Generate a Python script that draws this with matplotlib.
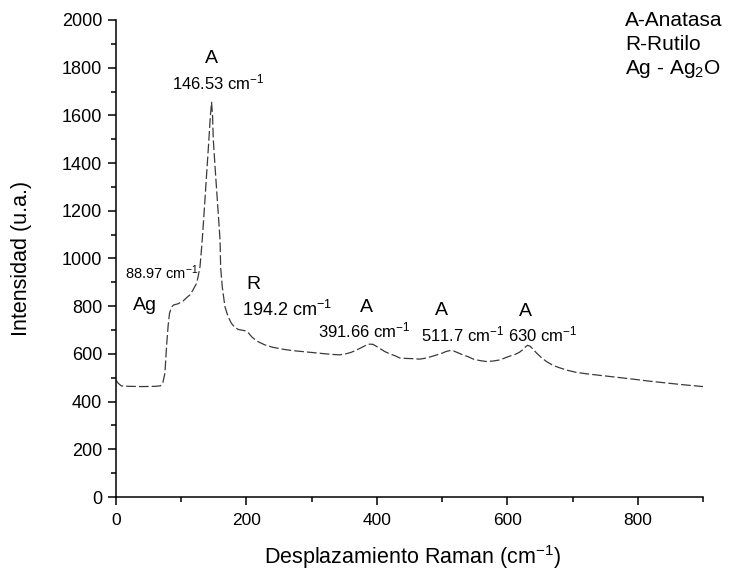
import matplotlib
matplotlib.use("Agg")
import matplotlib.pyplot as plt
from matplotlib.ticker import MultipleLocator

plt.rcParams["font.family"] = ["Liberation Sans", "DejaVu Sans"]
plt.rcParams["mathtext.fontset"] = "custom"
plt.rcParams["mathtext.rm"] = "Liberation Sans"
plt.rcParams["mathtext.it"] = "Liberation Sans:italic"
plt.rcParams["mathtext.bf"] = "Liberation Sans:bold"
plt.rcParams["lines.scale_dashes"] = False

# Raman shift (cm^-1) and intensity (a.u.)
shift = [0, 3, 8, 20, 40, 60, 68, 71.5, 75, 77.7, 80, 82, 85, 88, 95, 103, 108,
         113.5, 118, 123.6, 126, 128.8, 131.4, 132.8, 136, 139, 142, 144.5, 146.5,
         148, 149.2, 151.5, 154.3, 157, 159.5, 160.5, 163, 167, 172, 177, 182, 187,
         192, 198, 203, 208, 213, 218, 228, 240, 255, 270, 285, 300, 315, 330, 343,
         352, 360, 368, 376, 383, 389, 394, 399, 405, 412, 420, 428, 435, 445, 455,
         466, 476, 485, 492, 500, 506, 512, 518, 524, 530, 540, 548, 558, 568, 578,
         589, 598, 605, 612, 618, 624, 628, 631, 635, 640, 645, 652, 660, 670, 680,
         691, 705, 720, 742, 768, 793, 820, 844, 872, 900]
intensity = [490, 478, 466, 464, 463, 464, 466, 475, 519, 640, 720, 770, 795, 805,
             810, 822, 835, 848, 868, 896, 925, 966, 1050, 1100, 1230, 1357, 1480,
             1590, 1655, 1600, 1497, 1400, 1287, 1180, 1078, 960, 880, 798, 755, 728,
             712, 703, 700, 697, 688, 672, 660, 651, 638, 628, 620, 614, 610, 606, 602,
             598, 596, 600, 606, 615, 626, 636, 641, 640, 632, 622, 610, 600, 592, 583,
             581, 580, 578, 583, 590, 596, 603, 610, 614, 612, 605, 598, 588, 578, 572,
             568, 570, 575, 585, 592, 598, 606, 618, 630, 636, 632, 618, 603, 585, 568,
             552, 542, 532, 523, 517, 510, 502, 494, 485, 478, 470, 463]

# Peak assignments: phase letter and band position
peak_letters = ["Ag", "A", "R", "A", "A", "A"]
peak_texts = ["88.97 cm$^{-1}$", "146.53 cm$^{-1}$", "194.2 cm$^{-1}$",
              "391.66 cm$^{-1}$", "511.7 cm$^{-1}$", "630 cm$^{-1}$"]
letter_xy = [(44, 805), (146, 1840), (211, 892), (384, 795), (499, 782), (628, 777)]
text_xy = [(70, 940), (156, 1738), (262, 785), (380, 700), (531, 680), (654, 680)]
text_sizes = [10.5, 12, 13, 12, 12, 12]

fig = plt.figure(figsize=(7.3, 5.73), dpi=100)
ax = fig.add_axes([116 / 730, 76 / 573, 587 / 730, 477 / 573])

ax.plot(shift, intensity, color="#3a3a3a", lw=0.9, linestyle=(0, (7, 2.2)))

ax.set_xlim(0, 900)
ax.set_ylim(0, 2000)
ax.xaxis.set_major_locator(MultipleLocator(200))
ax.xaxis.set_minor_locator(MultipleLocator(100))
ax.yaxis.set_major_locator(MultipleLocator(200))
ax.yaxis.set_minor_locator(MultipleLocator(100))
ax.tick_params(which="both", direction="out", width=1.1)
ax.tick_params(which="major", length=6)
ax.tick_params(which="minor", length=3.5)
ax.tick_params(axis="x", labelsize=12.5, pad=5.5)
ax.tick_params(axis="y", labelsize=13, pad=4)
for side in ("top", "right"):
    ax.spines[side].set_visible(False)
for side in ("left", "bottom"):
    ax.spines[side].set_linewidth(1.1)

for letter, (lx, ly) in zip(peak_letters, letter_xy):
    ax.text(lx, ly, letter, ha="center", va="center", fontsize=14)
for txt, (tx, ty), fs in zip(peak_texts, text_xy, text_sizes):
    ax.text(tx, ty, txt, ha="center", va="center", fontsize=fs)

fig.text(412 / 730, 1 - 557 / 573, "Desplazamiento Raman (cm$^{-1}$)",
         ha="center", va="center", fontsize=15.5)
fig.text(22 / 730, 1 - 258 / 573, "Intensidad (u.a.)", rotation=90,
         ha="center", va="center", fontsize=15.5)

legend_lines = ["A-Anatasa", "R-Rutilo", "Ag - Ag$_2$O"]
legend_y = [20, 44, 69]
for line, ly in zip(legend_lines, legend_y):
    fig.text(625 / 730, 1 - ly / 573, line, ha="left", va="center", fontsize=15)

fig.savefig("out.png", dpi=100)
